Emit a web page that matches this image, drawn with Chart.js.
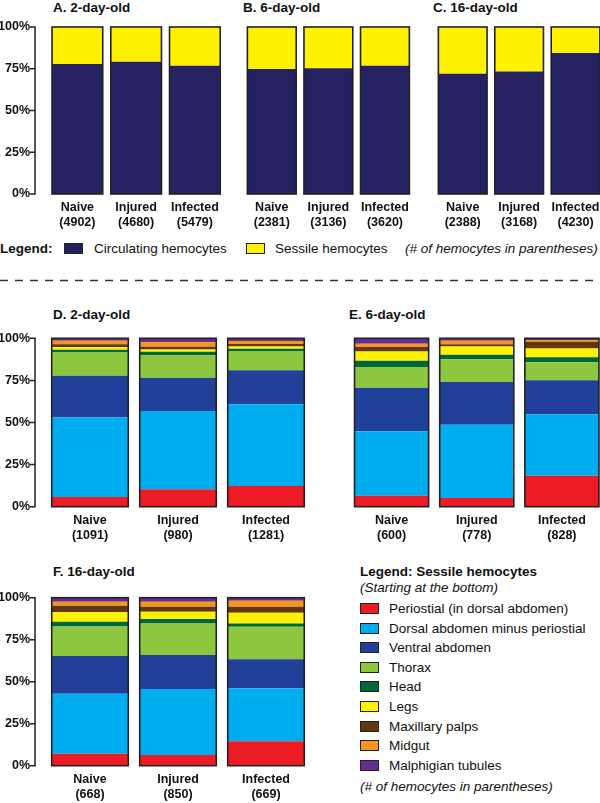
<!DOCTYPE html>
<html>
<head>
<meta charset="utf-8">
<script src="https://cdn.jsdelivr.net/npm/chart.js@4.4.0/dist/chart.umd.min.js"></script>
<style>
html, body { margin: 0; padding: 0; background: #fff; overflow: hidden; }
#page { position: relative; width: 600px; height: 803px; overflow: hidden; font-family: 'Liberation Sans', Arial, sans-serif; color: #111; }
canvas { position: absolute; }
.t { position: absolute; font-size: 13.5px; line-height: 16px; white-space: nowrap; }
.b { font-weight: bold; }
.i { font-style: italic; }
.box { position: absolute; width: 17px; height: 9px; border: 1.5px solid #222; }
</style>
</head>
<body>
<div id="page">
  <div class="t b" style="left:53px;top:0px">A. 2-day-old</div>
  <div class="t b" style="left:243px;top:0px">B. 6-day-old</div>
  <div class="t b" style="left:433px;top:0px">C. 16-day-old</div>

  <div class="t b" style="left:0px;top:241px">Legend:</div>
  <div class="box" id="boxCirc" style="left:64px;top:243px"></div>
  <div class="t" id="txtCirc" style="left:94px;top:241px"></div>
  <div class="box" id="boxSess" style="left:246px;top:243px"></div>
  <div class="t" id="txtSess" style="left:275px;top:241px"></div>
  <div class="t i" style="left:405px;top:241px">(# of hemocytes in parentheses)</div>

  <svg style="position:absolute;left:0;top:279px" width="600" height="3">
    <line x1="0" y1="1.5" x2="600" y2="1.5" stroke="#333" stroke-width="1.5" stroke-dasharray="8 7"/>
  </svg>

  <div class="t b" style="left:53px;top:307px">D. 2-day-old</div>
  <div class="t b" style="left:349px;top:307px">E. 6-day-old</div>
  <div class="t b" style="left:53px;top:564px">F. 16-day-old</div>

  <div class="t b" style="left:360px;top:564px">Legend: Sessile hemocytes</div>
  <div class="t i" style="left:360px;top:580px">(Starting at the bottom)</div>
  <div id="sessLegend"></div>
  <div class="t i" style="left:360px;top:779px">(# of hemocytes in parentheses)</div>
</div>

<script>
// categories and counts
const categories = ['Naive', 'Injured', 'Infected'];
const countsA = ['4902', '4680', '5479'];
const countsB = ['2381', '3136', '3620'];
const countsC = ['2388', '3168', '4230'];
const countsD = ['1091', '980', '1281'];
const countsE = ['600', '778', '828'];
const countsF = ['668', '850', '669'];

// top row: % circulating / sessile
const circA = [77.8, 79.2, 76.8];
const sessA = [22.2, 20.8, 23.2];
const circB = [74.9, 75.3, 76.8];
const sessB = [25.1, 24.7, 23.2];
const circC = [72.0, 73.4, 84.4];
const sessC = [28.0, 26.6, 15.6];

const circName = 'Circulating hemocytes';
const sessName = 'Sessile hemocytes';
const circColor = '#262261';
const sessColor = '#FFF200';

// sessile regions, bottom to top
const regionNames = ['Periostial (in dorsal abdomen)', 'Dorsal abdomen minus periostial', 'Ventral abdomen',
    'Thorax', 'Head', 'Legs', 'Maxillary palps', 'Midgut', 'Malphigian tubules'];
const regionColors = ['#ED1C24', '#00AEEF', '#21409A', '#8DC63F', '#006838', '#FFF200', '#603913', '#F7941D', '#662D91'];

// one row per region: [Naive, Injured, Infected]
const sessileD = [
    [5.8, 10.3, 12.3],
    [47.1, 46.5, 48.5],
    [24.9, 19.8, 20.2],
    [14.0, 13.4, 11.4],
    [1.4, 2.0, 1.4],
    [1.6, 1.4, 1.4],
    [1.6, 1.6, 1.4],
    [2.2, 2.6, 1.8],
    [1.4, 2.4, 1.6]
];
const sessileE = [
    [6.5, 5.2, 18.4],
    [38.3, 43.4, 36.5],
    [25.9, 25.5, 20.2],
    [12.3, 13.4, 10.7],
    [3.7, 2.8, 2.9],
    [5.4, 4.9, 5.2],
    [2.7, 1.2, 4.1],
    [2.0, 2.2, 1.0],
    [3.2, 1.4, 1.0]
];
const sessileF = [
    [7.1, 6.4, 14.5],
    [35.8, 39.2, 31.6],
    [22.4, 20.3, 17.2],
    [17.5, 18.8, 19.4],
    [2.9, 2.6, 2.0],
    [5.6, 4.4, 6.4],
    [3.9, 2.9, 3.5],
    [2.4, 3.0, 3.6],
    [2.4, 2.4, 1.8]
];

const yTicks = [0, 25, 50, 75, 100];
const FONT = "'Liberation Sans', Arial, sans-serif";

// legend boxes / text
document.getElementById('boxCirc').style.background = circColor;
document.getElementById('txtCirc').textContent = circName;
document.getElementById('boxSess').style.background = sessColor;
document.getElementById('txtSess').textContent = sessName;
const leg = document.getElementById('sessLegend');
regionNames.forEach((name, k) => {
    const cy = 609 + k * 19.6;
    const b = document.createElement('div');
    b.className = 'box';
    b.style.left = '360px';
    b.style.top = (cy - 6) + 'px';
    b.style.background = regionColors[k];
    leg.appendChild(b);
    const t = document.createElement('div');
    t.className = 't';
    t.style.left = '389px';
    t.style.top = (cy - 8) + 'px';
    t.textContent = name;
    leg.appendChild(t);
});

// outline of each stacked bar + y axis line drawn off the chart area
const panelPlugin = {
    id: 'panelPlugin',
    afterDatasetsDraw(chart, args, opts) {
        const ctx = chart.ctx;
        const n = chart.data.datasets.length;
        const first = chart.getDatasetMeta(0).data;
        const last = chart.getDatasetMeta(n - 1).data;
        ctx.save();
        ctx.strokeStyle = '#222';
        ctx.lineWidth = 1.6;
        first.forEach((bar, i) => {
            const top = last[i].y;
            ctx.strokeRect(bar.x - bar.width / 2, top, bar.width, bar.base - top);
        });
        if (opts.axisX !== undefined) {
            const y = chart.scales.y;
            ctx.lineWidth = 1.5;
            ctx.beginPath();
            ctx.moveTo(opts.axisX, y.getPixelForValue(0) + 0.75);
            ctx.lineTo(opts.axisX, y.getPixelForValue(100) - 0.75);
            yTicks.forEach(v => {
                const py = y.getPixelForValue(v);
                ctx.moveTo(opts.axisX - 5, py);
                ctx.lineTo(opts.axisX, py);
            });
            ctx.stroke();
        }
        ctx.restore();
    }
};

function makePanel(p) {
    const cv = document.createElement('canvas');
    const H = Math.ceil(p.bottom - p.T + 40);
    cv.width = p.W;
    cv.height = H;
    cv.style.left = p.L + 'px';
    cv.style.top = p.T + 'px';
    document.getElementById('page').appendChild(cv);

    const datasets = p.series.map((s, k) => ({
        label: p.names[k],
        data: s,
        backgroundColor: p.colors[k],
        borderWidth: 0,
        barPercentage: p.barPct,
        categoryPercentage: 1.0
    }));

    new Chart(cv, {
        type: 'bar',
        data: {
            labels: categories.map((c, i) => [c, '(' + p.counts[i] + ')']),
            datasets: datasets
        },
        options: {
            responsive: false,
            animation: false,
            events: [],
            layout: {
                padding: {
                    top: p.top - p.T,
                    bottom: H - 40 - (p.bottom - p.T),
                    left: p.axis ? 0 : p.cl - p.L,
                    right: p.L + p.W - p.cr
                }
            },
            scales: {
                x: {
                    stacked: true,
                    grid: { display: false, drawTicks: false },
                    border: { display: false },
                    afterFit: s => { s.height = 40; },
                    ticks: {
                        color: '#111',
                        padding: 6,
                        maxRotation: 0,
                        autoSkip: false,
                        font: { family: FONT, size: 12.5, weight: 'bold', lineHeight: 1.2 }
                    }
                },
                y: {
                    display: p.axis,
                    stacked: true,
                    min: 0,
                    max: 100,
                    grid: { display: false, drawTicks: false },
                    border: { display: false },
                    afterFit: s => { s.width = p.cl - p.L; },
                    ticks: {
                        stepSize: 25,
                        color: '#111',
                        padding: p.cl - p.L - 30,
                        font: { family: FONT, size: 12.5, weight: 'bold' },
                        callback: v => v + '%'
                    }
                }
            },
            plugins: {
                legend: { display: false },
                tooltip: { enabled: false },
                panelPlugin: p.axis ? { axisX: 35 } : {}
            }
        },
        plugins: [panelPlugin]
    });
}

const topNames = [circName, sessName];
const topColors = [circColor, sessColor];

makePanel({ L: 0, W: 228, T: 0, top: 27, bottom: 194, cl: 48, cr: 224.25, axis: true, barPct: 0.863,
    counts: countsA, series: [circA, sessA], names: topNames, colors: topColors });
makePanel({ L: 232, W: 186, T: 0, top: 27, bottom: 194, cl: 237.75, cr: 413.25, axis: false, barPct: 0.863,
    counts: countsB, series: [circB, sessB], names: topNames, colors: topColors });
makePanel({ L: 422, W: 186, T: 0, top: 27, bottom: 194, cl: 428.25, cr: 603.75, axis: false, barPct: 0.863,
    counts: countsC, series: [circC, sessC], names: topNames, colors: topColors });

makePanel({ L: 0, W: 314, T: 300, top: 338.3, bottom: 506.7, cl: 46, cr: 310, axis: true, barPct: 0.87,
    counts: countsD, series: sessileD, names: regionNames, colors: regionColors });
makePanel({ L: 338, W: 270, T: 300, top: 338.3, bottom: 506.7, cl: 343.5, cr: 604.5, axis: false, barPct: 0.87,
    counts: countsE, series: sessileE, names: regionNames, colors: regionColors });
makePanel({ L: 0, W: 314, T: 560, top: 597.7, bottom: 765.7, cl: 46, cr: 310, axis: true, barPct: 0.87,
    counts: countsF, series: sessileF, names: regionNames, colors: regionColors });
</script>
</body>
</html>
